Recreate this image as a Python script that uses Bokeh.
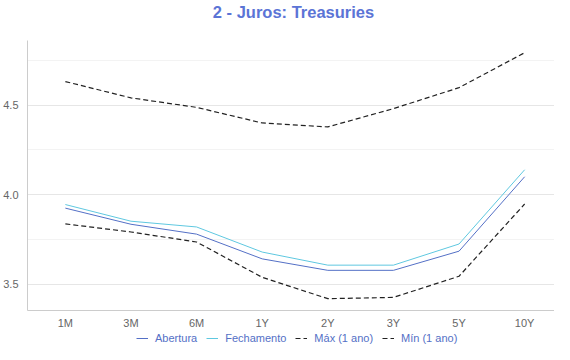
from bokeh.plotting import figure
from bokeh.layouts import column
from bokeh.models import (Legend, LegendItem, SingleIntervalTicker, FixedTicker,
                          Range1d, PrintfTickFormatter, Label)
from bokeh.embed import file_html
from bokeh.resources import INLINE

tenors = ["1M", "3M", "6M", "1Y", "2Y", "3Y", "5Y", "10Y"]
abertura = [3.925, 3.835, 3.78, 3.642, 3.578, 3.578, 3.685, 4.10]
fechamento = [3.945, 3.852, 3.82, 3.68, 3.607, 3.607, 3.725, 4.139]
maximo = [4.631, 4.54, 4.487, 4.40, 4.378, 4.48, 4.597, 4.792]
minimo = [3.837, 3.792, 3.736, 3.539, 3.42, 3.427, 3.545, 3.948]
series_names = ["Abertura", "Fechamento", "Máx (1 ano)", "Mín (1 ano)"]
title_text = "2 - Juros: Treasuries"

xs = list(range(len(tenors)))
FONT = "Liberation Sans"
BLUE = "#5470c6"
CYAN = "#5fc8e0"
DARK = "#222222"


def blank_fig(h):
    f = figure(width=554, height=h, output_backend="svg", toolbar_location=None,
               x_range=Range1d(0, 1), y_range=Range1d(0, 1),
               x_axis_location=None, y_axis_location=None, min_border=0)
    f.outline_line_color = None
    f.xgrid.grid_line_color = None
    f.ygrid.grid_line_color = None
    return f


# title strip
tf = blank_fig(24)
tf.add_layout(Label(x=266, y=13, x_units="screen", y_units="screen", text=title_text,
                    text_align="center", text_baseline="middle", text_font=FONT,
                    text_font_size="16.5px", text_font_style="bold",
                    text_color="#5b74d6"))

p = figure(width=554, height=307, output_backend="svg", toolbar_location=None,
           x_range=Range1d(-0.577, 7.455), y_range=Range1d(3.354, 4.86),
           min_border_left=0, min_border_right=0, min_border_top=16, min_border_bottom=16)
p.outline_line_color = None
p.background_fill_color = "white"
p.border_fill_color = "white"

p.line(xs, abertura, line_color=BLUE, line_width=1)
p.line(xs, fechamento, line_color=CYAN, line_width=1)
p.line(xs, maximo, line_color=DARK, line_width=1.2, line_dash="5 3")
p.line(xs, minimo, line_color=DARK, line_width=1.2, line_dash="5 3")

p.xaxis.ticker = FixedTicker(ticks=xs)
p.xaxis.major_label_overrides = {i: t for i, t in enumerate(tenors)}
p.yaxis.ticker = SingleIntervalTicker(interval=0.5, num_minor_ticks=2)
p.yaxis.formatter = PrintfTickFormatter(format="%.1f")

for ax in (p.xaxis, p.yaxis):
    ax.major_tick_line_color = None
    ax.minor_tick_line_color = None
    ax.axis_line_color = "#cccccc"
    ax.major_label_text_font = FONT
    ax.major_label_text_font_size = "11px"
    ax.major_label_text_color = "#666666"
p.xaxis.major_label_standoff = 0
p.yaxis.major_label_standoff = 3

p.xgrid.grid_line_color = None
p.ygrid.grid_line_color = "#e6e6e6"
p.ygrid.minor_grid_line_color = "#f3f3f3"

# legend strip below the chart
lg = blank_fig(13)
g1 = lg.line([5, 6], [5, 5], line_color=BLUE, line_width=1)
g2 = lg.line([5, 6], [5, 5], line_color=CYAN, line_width=1)
g3 = lg.line([5, 6], [5, 5], line_color=DARK, line_width=1.2, line_dash="5 3")
g4 = lg.line([5, 6], [5, 5], line_color=DARK, line_width=1.2, line_dash="5 3")

legend = Legend(items=[LegendItem(label=n, renderers=[g]) for n, g in
                       zip(series_names, [g1, g2, g3, g4])],
                orientation="horizontal", location=(109, 0))
legend.label_text_font = FONT
legend.label_text_font_size = "11px"
legend.label_text_color = BLUE
legend.glyph_width = 12
legend.glyph_height = 12
legend.label_height = 12
legend.label_standoff = 7
legend.spacing = 9
legend.border_line_color = None
legend.background_fill_alpha = 0
legend.padding = 0
legend.margin = 0
lg.add_layout(legend, "center")

layout = column(tf, p, lg, spacing=0)
open("out.html", "w").write(file_html(layout, INLINE))
